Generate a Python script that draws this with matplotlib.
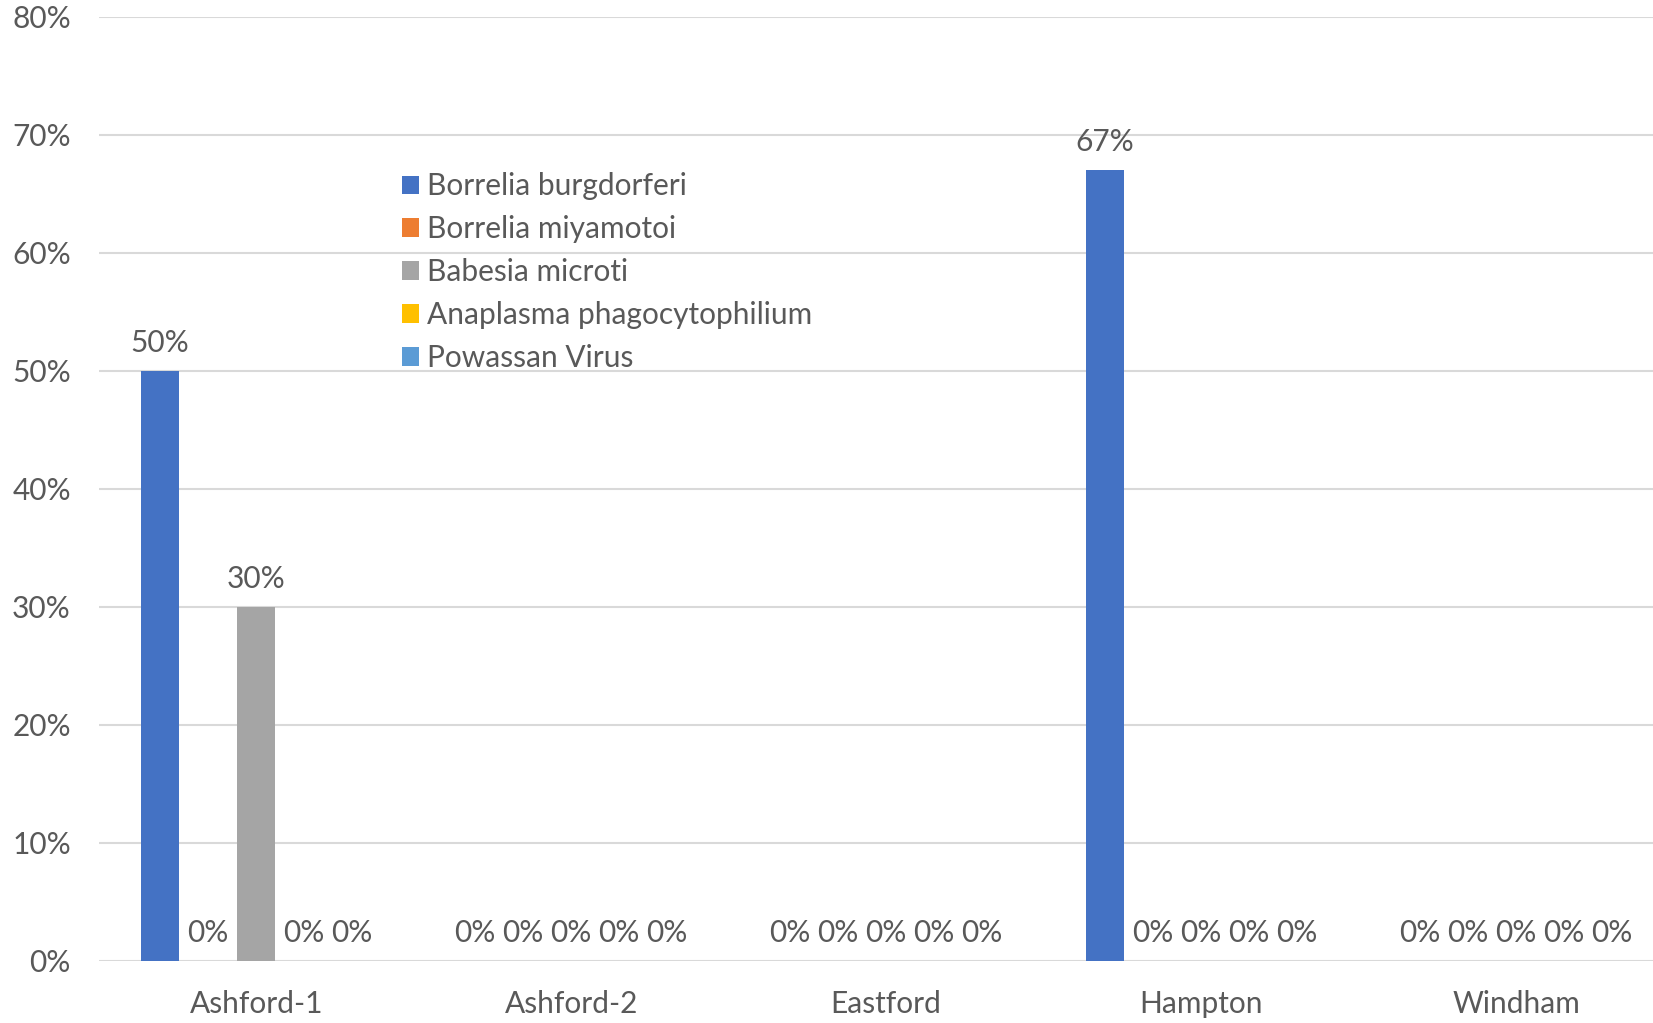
import matplotlib
matplotlib.use("Agg")
import matplotlib.pyplot as plt
import numpy as np
from matplotlib.ticker import PercentFormatter

categories = ["Ashford-1", "Ashford-2", "Eastford", "Hampton", "Windham"]
series_names = ["Borrelia burgdorferi", "Borrelia miyamotoi", "Babesia microti",
                "Anaplasma phagocytophilium", "Powassan Virus"]
borrelia_burgdorferi = [0.50, 0.0, 0.0, 0.67, 0.0]
borrelia_miyamotoi = [0.0, 0.0, 0.0, 0.0, 0.0]
babesia_microti = [0.30, 0.0, 0.0, 0.0, 0.0]
anaplasma = [0.0, 0.0, 0.0, 0.0, 0.0]
powassan = [0.0, 0.0, 0.0, 0.0, 0.0]
series = [borrelia_burgdorferi, borrelia_miyamotoi, babesia_microti, anaplasma, powassan]
colors = ["#4472C4", "#ED7D31", "#A5A5A5", "#FFC000", "#5B9BD5"]

plt.rcParams['font.family'] = ['Lato', 'DejaVu Sans']
txt = "#595959"
fs = 21.5

fig = plt.figure(figsize=(16.53, 10.23), dpi=100)
ax = fig.add_axes([0.0597, 0.0608, 0.9528, 0.9227])

x = np.arange(len(categories))
spacing = 0.1523
width = 0.1205
for i, (vals, name, c) in enumerate(zip(series, series_names, colors)):
    pos = x + (i - 2) * spacing
    bars = ax.bar(pos, vals, width=width, color=c, label=name, zorder=3)
    for b, v in zip(bars, vals):
        ax.annotate(f"{v*100:.0f}%", (b.get_x() + b.get_width() / 2, v),
                    xytext=(0, 10), textcoords="offset points",
                    ha="center", va="bottom", fontsize=fs, color=txt, zorder=4)

ax.set_xlim(-0.5, 4.5)
ax.set_ylim(0, 0.8)
ax.set_yticks(np.arange(0, 0.81, 0.1))
ax.yaxis.set_major_formatter(PercentFormatter(1.0, decimals=0))
ax.set_xticks(x)
ax.set_xticklabels(categories)
ax.tick_params(axis='both', length=0, labelsize=fs, labelcolor=txt)
ax.tick_params(axis='y', pad=20)
ax.tick_params(axis='x', pad=21)
ax.grid(axis='y', color="#D9D9D9", linewidth=1.5, zorder=0)
for s in ax.spines.values():
    s.set_visible(False)

leg = ax.legend(loc="upper left", bbox_to_anchor=(0.1852, 0.848), frameon=False,
                fontsize=fs, handlelength=0.57, handleheight=0.57, handletextpad=0.25,
                labelspacing=0.5, labelcolor=txt, borderaxespad=0)

fig.savefig("out.png", dpi=100)
